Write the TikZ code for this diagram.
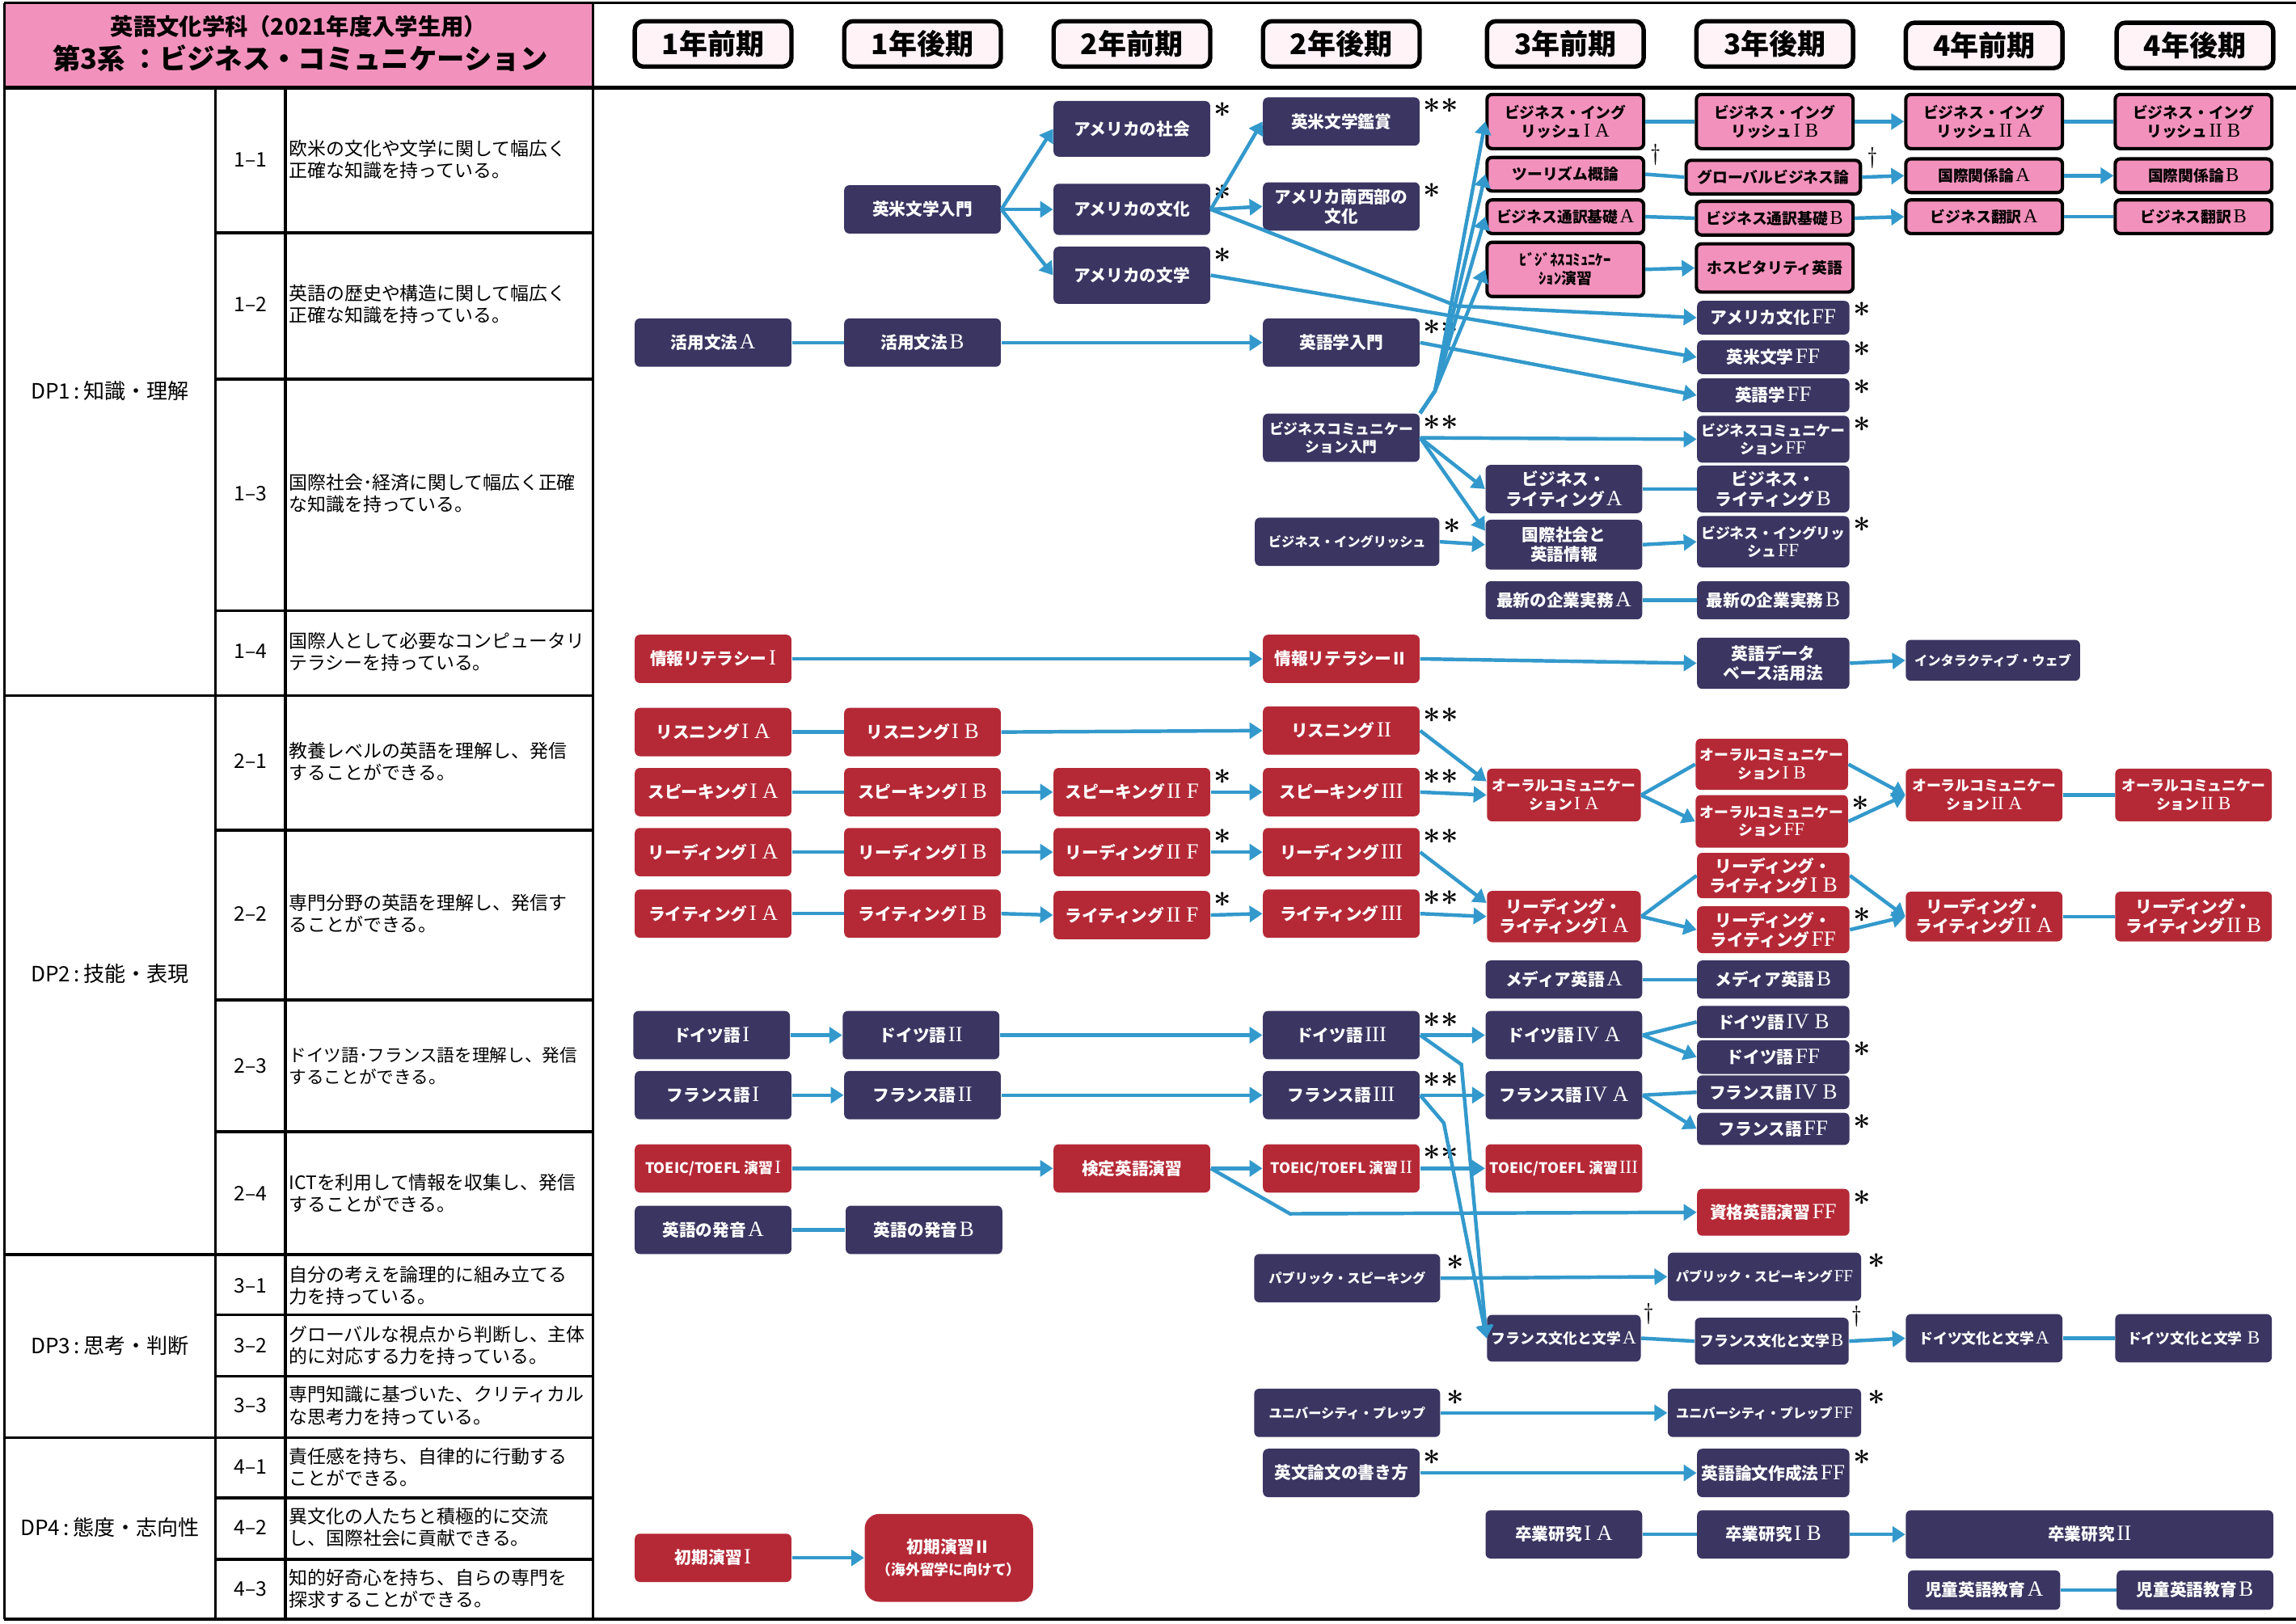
\documentclass[tikz,border=0pt]{standalone}
\usepackage{fontspec}
\usetikzlibrary{arrows.meta}
\newfontfamily\jp{Noto Sans CJK JP}
\newfontfamily\romf{Liberation Serif}[Scale=1.3]
\newcommand\romn[1]{\hspace{0.12em}{\romf\mdseries #1}}
\definecolor{navy}{RGB}{58,53,97}
\definecolor{crim}{RGB}{181,41,54}
\definecolor{pinkb}{RGB}{242,146,188}
\definecolor{hdrp}{RGB}{255,243,248}
\definecolor{arrb}{RGB}{51,153,204}
\tikzset{
  bx/.style={rounded corners=0.07cm, inner sep=0pt, align=center,
     minimum width=2.14cm, minimum height=0.66cm,
     font=\jp\bfseries\fontsize{6.5}{7.6}\selectfont, text=white},
  nv/.style={bx, fill=navy},
  rd/.style={bx, fill=crim},
  pk/.style={bx, fill=pinkb, draw=black, line width=1.3pt, text=black,
     font=\jp\bfseries\fontsize{5.9}{7.2}\selectfont},
  bw/.style={minimum width=#1*0.02cm},
  bh/.style={minimum height=#1*0.02cm},
  sm/.style={font=\jp\bfseries\fontsize{5.6}{7}\selectfont},
  xs/.style={font=\jp\bfseries\fontsize{5.1}{6.5}\selectfont},
  ar/.style={draw=arrb, line width=1.4pt, -{Triangle[length=5pt,width=6.2pt]}},
  ln/.style={draw=arrb, line width=1.4pt},
  mk/.style={anchor=north west, inner sep=0pt, font=\bfseries\fontsize{12}{12}\selectfont},
  dg/.style={anchor=north west, inner sep=0pt, font=\fontsize{9}{9}\selectfont},
  hd/.style={draw=black, line width=1.7pt, fill=hdrp, rounded corners=0.12cm,
     minimum width=2.14cm, minimum height=0.62cm, inner sep=0pt,
     font=\jp\bfseries\fontsize{11}{11}\selectfont},
  dsc/.style={anchor=west, align=left, inner sep=0pt, font=\jp\fontsize{7.2}{8.55}\selectfont},
  num/.style={inner sep=0pt, font=\jp\fontsize{7.8}{8}\selectfont},
  dpl/.style={inner sep=0pt, font=\jp\fontsize{8.2}{9}\selectfont},
  tl/.style={line width=1.1pt, draw=black},
}
\begin{document}
\begin{tikzpicture}[x=0.02cm,y=-0.02cm]
\useasboundingbox (0,0) rectangle (1568,1109);
\fill[white] (0,0) rectangle (1568,1109);
% ---------- left table ----------
\fill[pinkb] (3,2) rectangle (405,60);
\draw[tl] (3,2) -- (1568,2);
\draw[line width=1.7pt] (3,60) -- (1568,60);
\draw[tl] (3,1106) -- (1568,1106);
\draw[tl] (3,2) -- (3,1106);
\draw[tl] (405,2) -- (405,1106);
\draw[tl] (147,60) -- (147,1106);
\draw[tl] (195,60) -- (195,1106);
\foreach \yy in {475,857,982} \draw[tl] (3,\yy) -- (405,\yy);
\foreach \yy in {159,259,417,567,683,773,898,940,1023,1065} \draw[tl] (147,\yy) -- (405,\yy);
\node[inner sep=0pt, font=\jp\bfseries\fontsize{8.9}{9}\selectfont] (h1) at (204,18) {英語文化学科（2021年度入学生用）};
\node[inner sep=0pt, font=\jp\bfseries\fontsize{10.8}{11}\selectfont] (h2) at (205,40) {第3系 ：ビジネス・コミュニケーション};
\node[dpl] (dp1) at (75,267) {DP1\,:\,知識・理解};
\node[dpl] (dp2) at (75,665) {DP2\,:\,技能・表現};
\node[dpl] (dp3) at (75,919) {DP3\,:\,思考・判断};
\node[dpl] (dp4) at (75,1043) {DP4\,:\,態度・志向性};
\node[num] (n11) at (171,109) {1–1};
\node[num] (n12) at (171,208) {1–2};
\node[num] (n13) at (171,337) {1–3};
\node[num] (n14) at (171,445) {1–4};
\node[num] (n21) at (171,520) {2–1};
\node[num] (n22) at (171,624) {2–2};
\node[num] (n23) at (171,728) {2–3};
\node[num] (n24) at (171,815) {2–4};
\node[num] (n31) at (171,878) {3–1};
\node[num] (n32) at (171,919) {3–2};
\node[num] (n33) at (171,960) {3–3};
\node[num] (n41) at (171,1002) {4–1};
\node[num] (n42) at (171,1043) {4–2};
\node[num] (n43) at (171,1085) {4–3};
\node[dsc] (d11) at (197,109) {欧米の文化や文学に関して幅広く\\正確な知識を持っている。};
\node[dsc] (d12) at (197,208) {英語の歴史や構造に関して幅広く\\正確な知識を持っている。};
\node[dsc] (d13) at (197,337) {国際社会･経済に関して幅広く正確\\な知識を持っている。};
\node[dsc] (d14) at (197,445) {国際人として必要なコンピュータリ\\テラシーを持っている。};
\node[dsc] (d21) at (197,520) {教養レベルの英語を理解し、発信\\することができる。};
\node[dsc] (d22) at (197,624) {専門分野の英語を理解し、発信す\\ることができる。};
\node[dsc,font=\jp\fontsize{6.8}{8.55}\selectfont] (d23) at (197,728) {ドイツ語･フランス語を理解し、発信\\することができる。};
\node[dsc] (d24) at (197,815) {ICTを利用して情報を収集し、発信\\することができる。};
\node[dsc] (d31) at (197,878) {自分の考えを論理的に組み立てる\\力を持っている。};
\node[dsc] (d32) at (197,919) {グローバルな視点から判断し、主体\\的に対応する力を持っている。};
\node[dsc] (d33) at (197,960) {専門知識に基づいた、クリティカル\\な思考力を持っている。};
\node[dsc] (d41) at (197,1002) {責任感を持ち、自律的に行動する\\ことができる。};
\node[dsc] (d42) at (197,1043) {異文化の人たちと積極的に交流\\し、国際社会に貢献できる。};
\node[dsc] (d43) at (197,1085) {知的好奇心を持ち、自らの専門を\\探求することができる。};
% ---------- column headers ----------
\node[hd] (c1) at (487,30) {1年前期};
\node[hd] (c2) at (630,30) {1年後期};
\node[hd] (c3) at (773,30) {2年前期};
\node[hd] (c4) at (916,30) {2年後期};
\node[hd] (c5) at (1069,30) {3年前期};
\node[hd] (c6) at (1212,30) {3年後期};
\node[hd] (c7) at (1355,31) {4年前期};
\node[hd] (c8) at (1499,31) {4年後期};
% ---------- DP1 navy ----------
\node[nv] (eibei) at (630,143) {英米文学入門};
\node[nv,bh=38] (amsha) at (773,88) {アメリカの社会};
\node[nv,bh=35] (ambunka) at (773,143) {アメリカの文化};
\node[nv,bh=39] (ambungaku) at (773,188) {アメリカの文学};
\node[nv] (kansho) at (916,83) {英米文学鑑賞};
\node[nv] (nansei) at (916,141) {アメリカ南西部の\\文化};
\node[nv] (katsuA) at (487,234) {活用文法\romn{A}};
\node[nv] (katsuB) at (630,234) {活用文法\romn{B}};
\node[nv] (gogaku) at (916,234) {英語学入門};
\node[nv,sm] (bcnyu) at (916,299) {ビジネスコミュニケー\\ション入門};
\node[nv,xs,bw=126] (bizeng) at (920,370) {ビジネス・イングリッシュ};
\node[nv,bw=104,bh=23] (amff) at (1211,217) {アメリカ文化\romn{FF}};
\node[nv,bw=104,bh=23] (eibff) at (1211,244) {英米文学\romn{FF}};
\node[nv,bw=104,bh=23] (gogff) at (1211,270) {英語学\romn{FF}};
\node[nv,sm,bw=104,bh=32] (bcff) at (1211,300) {ビジネスコミュニケー\\ション\romn{FF}};
\node[nv,bh=33] (bwA) at (1068,334) {ビジネス・\\ライティング\romn{A}};
\node[nv,bw=104,bh=32] (bwB) at (1211,334) {ビジネス・\\ライティング\romn{B}};
\node[nv,bh=34] (kokjo) at (1068,372) {国際社会と\\英語情報};
\node[nv,sm,bw=104,bh=35] (beff) at (1211,370) {ビジネス・イングリッ\\シュ\romn{FF}};
\node[nv,bh=26] (kigA) at (1068,410) {最新の企業実務\romn{A}};
\node[nv,bw=104,bh=26] (kigB) at (1211,410) {最新の企業実務\romn{B}};
\node[nv,bw=104,bh=35] (db) at (1211,453) {英語データ\\ベース活用法};
\node[nv,xs,bw=119,bh=28] (web) at (1361,451) {インタラクティブ・ウェブ};
% ---------- DP1 pink ----------
\node[pk,bh=37] (be1a) at (1069,83) {ビジネス・イング\\リッシュ\romn{I A}};
\node[pk,bh=23] (tour) at (1069,119) {ツーリズム概論};
\node[pk,bh=23] (tsuA) at (1069,148) {ビジネス通訳基礎\romn{A}};
\node[pk,bh=37] (bcen) at (1069,184) {ﾋﾞｼﾞﾈｽｺﾐｭﾆｹｰ\\ｼｮﾝ演習};
\node[pk,bh=37] (be1b) at (1212,83) {ビジネス・イング\\リッシュ\romn{I B}};
\node[pk,bw=119,bh=23] (glob) at (1211,121) {グローバルビジネス論};
\node[pk,bh=23] (tsuB) at (1212,149) {ビジネス通訳基礎\romn{B}};
\node[pk,bh=33] (hosp) at (1212,183) {ホスピタリティ英語};
\node[pk,bh=37] (be2a) at (1355,83) {ビジネス・イング\\リッシュ\romn{II A}};
\node[pk,bh=23] (kokA) at (1355,120) {国際関係論\romn{A}};
\node[pk,bh=23] (honA) at (1355,148) {ビジネス翻訳\romn{A}};
\node[pk,bh=37] (be2b) at (1498,83) {ビジネス・イング\\リッシュ\romn{II B}};
\node[pk,bh=23] (kokB) at (1498,120) {国際関係論\romn{B}};
\node[pk,bh=23] (honB) at (1498,148) {ビジネス翻訳\romn{B}};
% ---------- red ----------
\node[rd] (jo1) at (487,450) {情報リテラシー\romn{I}};
\node[rd] (jo2) at (916,450) {情報リテラシーⅡ};
\node[rd] (lis1a) at (487,500) {リスニング\romn{I A}};
\node[rd] (lis1b) at (630,500) {リスニング\romn{I B}};
\node[rd] (lis2) at (916,499) {リスニング\romn{II}};
\node[rd] (sp1a) at (487,541) {スピーキング\romn{I A}};
\node[rd] (sp1b) at (630,541) {スピーキング\romn{I B}};
\node[rd] (sp2f) at (773,541) {スピーキング\romn{II F}};
\node[rd] (sp3) at (916,541) {スピーキング\romn{III}};
\node[rd] (rd1a) at (487,582) {リーディング\romn{I A}};
\node[rd] (rd1b) at (630,582) {リーディング\romn{I B}};
\node[rd] (rd2f) at (773,582) {リーディング\romn{II F}};
\node[rd] (rd3) at (916,582) {リーディング\romn{III}};
\node[rd] (wr1a) at (487,624) {ライティング\romn{I A}};
\node[rd] (wr1b) at (630,624) {ライティング\romn{I B}};
\node[rd] (wr2f) at (773,625) {ライティング\romn{II F}};
\node[rd] (wr3) at (916,624) {ライティング\romn{III}};
\node[rd,sm,bw=105,bh=36] (oc1a) at (1068,543) {オーラルコミュニケー\\ション\romn{I A}};
\node[rd,bw=105,bh=35] (rw1a) at (1068,626) {リーディング・\\ライティング\romn{I A}};
\node[rd,sm,bw=104,bh=35] (oc1b) at (1210,522) {オーラルコミュニケー\\ション\romn{I B}};
\node[rd,sm,bw=104,bh=36] (ocff) at (1210,561) {オーラルコミュニケー\\ション\romn{FF}};
\node[rd,bw=104,bh=31] (rw1b) at (1211,598) {リーディング・\\ライティング\romn{I B}};
\node[rd,bw=104,bh=32] (rwff) at (1211,635) {リーディング・\\ライティング\romn{FF}};
\node[rd,sm,bh=36] (oc2a) at (1355,543) {オーラルコミュニケー\\ション\romn{II A}};
\node[rd,bh=34] (rw2a) at (1355,626) {リーディング・\\ライティング\romn{II A}};
\node[rd,sm,bh=36] (oc2b) at (1498,543) {オーラルコミュニケー\\ション\romn{II B}};
\node[rd,bh=34] (rw2b) at (1498,626) {リーディング・\\ライティング\romn{II B}};
\node[rd,sm] (to1) at (487,798) {TOEIC/TOEFL 演習\romn{I}};
\node[rd] (ken) at (773,798) {検定英語演習};
\node[rd,sm] (to2) at (916,798) {TOEIC/TOEFL 演習\romn{II}};
\node[rd,sm] (to3) at (1068,798) {TOEIC/TOEFL 演習\romn{III}};
\node[rd,bw=104,bh=32] (shik) at (1211,828) {資格英語演習\romn{FF}};
\node[rd] (sho1) at (487,1064) {初期演習\romn{I}};
\node[rd,bw=115,bh=60,rounded corners=0.2cm] (sho2) at (648,1064) {初期演習Ⅱ\\[1pt]{\fontsize{5.6}{7}\selectfont（海外留学に向けて）}};
% ---------- DP2 navy ----------
\node[nv,bh=26] (medA) at (1068,669) {メディア英語\romn{A}};
\node[nv,bw=104,bh=26] (medB) at (1211,669) {メディア英語\romn{B}};
\node[nv] (de1) at (486,707) {ドイツ語\romn{I}};
\node[nv] (de2) at (629,707) {ドイツ語\romn{II}};
\node[nv] (de3) at (916,707) {ドイツ語\romn{III}};
\node[nv] (de4a) at (1068,707) {ドイツ語\romn{IV A}};
\node[nv,bw=104,bh=22] (de4b) at (1211,698) {ドイツ語\romn{IV B}};
\node[nv,bw=104,bh=23] (deff) at (1211,722) {ドイツ語\romn{FF}};
\node[nv] (fr1) at (487,748) {フランス語\romn{I}};
\node[nv] (fr2) at (630,748) {フランス語\romn{II}};
\node[nv] (fr3) at (916,748) {フランス語\romn{III}};
\node[nv] (fr4a) at (1068,748) {フランス語\romn{IV A}};
\node[nv,bw=104,bh=23] (fr4b) at (1211,746) {フランス語\romn{IV B}};
\node[nv,bw=104,bh=22] (frff) at (1211,771) {フランス語\romn{FF}};
\node[nv] (hatA) at (487,840) {英語の発音\romn{A}};
\node[nv] (hatB) at (631,840) {英語の発音\romn{B}};
\node[nv,xs,bw=127] (pub) at (920,873) {パブリック・スピーキング};
\node[nv,xs,bw=132] (pubff) at (1205,872) {パブリック・スピーキング\romn{FF}};
\node[nv,sm,bw=105,bh=32] (frbA) at (1068,914) {フランス文化と文学\romn{A}};
\node[nv,sm,bw=105,bh=32] (frbB) at (1210,916) {フランス文化と文学\romn{B}};
\node[nv,sm] (debA) at (1355,914) {ドイツ文化と文学\romn{A}};
\node[nv,sm] (debB) at (1498,914) {ドイツ文化と文学\ \romn{B}};
\node[nv,xs,bw=127] (uni) at (920,965) {ユニバーシティ・プレップ};
\node[nv,xs,bw=132] (uniff) at (1205,965) {ユニバーシティ・プレップ\romn{FF}};
\node[nv] (ronA) at (916,1006) {英文論文の書き方};
\node[nv,bw=104] (ronff) at (1211,1006) {英語論文作成法\romn{FF}};
\node[nv] (sot1a) at (1068,1048) {卒業研究\romn{I A}};
\node[nv,bw=104] (sot1b) at (1211,1048) {卒業研究\romn{I B}};
\node[nv,bw=251] (sot2) at (1427,1048) {卒業研究\romn{II}};
\node[nv,bw=104,bh=27] (jiA) at (1355,1086) {児童英語教育\romn{A}};
\node[nv,bh=27] (jiB) at (1499,1086) {児童英語教育\romn{B}};
% ---------- marks ----------
\node[mk] (m1) at ([shift={(2,1)}]amsha.north east) {*};
\node[mk] (m2) at ([shift={(2,1)}]ambunka.north east) {*};
\node[mk] (m3) at ([shift={(2,1)}]ambungaku.north east) {*};
\node[mk] (m4) at ([shift={(2,1)}]kansho.north east) {**};
\node[mk] (m5) at ([shift={(2,1)}]nansei.north east) {*};
\node[mk] (m6) at ([shift={(2,1)}]gogaku.north east) {**};
\node[mk] (m7) at ([shift={(2,1)}]bcnyu.north east) {**};
\node[mk] (m8) at ([shift={(2,1)}]bizeng.north east) {*};
\node[mk] (m9) at ([shift={(2,1)}]amff.north east) {*};
\node[mk] (m10) at ([shift={(2,1)}]eibff.north east) {*};
\node[mk] (m11) at ([shift={(2,1)}]gogff.north east) {*};
\node[mk] (m12) at ([shift={(2,1)}]bcff.north east) {*};
\node[mk] (m13) at ([shift={(2,1)}]beff.north east) {*};
\node[mk] (m14) at ([shift={(2,1)}]lis2.north east) {**};
\node[mk] (m15) at ([shift={(2,1)}]sp2f.north east) {*};
\node[mk] (m16) at ([shift={(2,1)}]sp3.north east) {**};
\node[mk] (m17) at ([shift={(2,1)}]rd2f.north east) {*};
\node[mk] (m18) at ([shift={(2,1)}]rd3.north east) {**};
\node[mk] (m19) at ([shift={(2,1)}]wr2f.north east) {*};
\node[mk] (m20) at ([shift={(2,1)}]wr3.north east) {**};
\node[mk] (m21) at ([shift={(2,1)}]ocff.north east) {*};
\node[mk] (m22) at ([shift={(2,1)}]rwff.north east) {*};
\node[mk] (m23) at ([shift={(2,1)}]de3.north east) {**};
\node[mk] (m24) at ([shift={(2,1)}]deff.north east) {*};
\node[mk] (m25) at ([shift={(2,1)}]fr3.north east) {**};
\node[mk] (m26) at ([shift={(2,1)}]frff.north east) {*};
\node[mk] (m27) at ([shift={(2,1)}]to2.north east) {**};
\node[mk] (m28) at ([shift={(2,1)}]shik.north east) {*};
\node[mk] (m29) at ([shift={(4,1)}]pub.north east) {*};
\node[mk] (m30) at ([shift={(4,1)}]pubff.north east) {*};
\node[mk] (m31) at ([shift={(4,1)}]uni.north east) {*};
\node[mk] (m32) at ([shift={(4,1)}]uniff.north east) {*};
\node[mk] (m33) at ([shift={(2,1)}]ronA.north east) {*};
\node[mk] (m34) at ([shift={(2,1)}]ronff.north east) {*};
\node[dg] (g1) at ([shift={(3,-8)}]tour.north east) {\dag};
\node[dg] (g2) at ([shift={(3,-8)}]glob.north east) {\dag};
\node[dg] (g3) at ([shift={(1,-8)}]frbA.north east) {\dag};
\node[dg] (g4) at ([shift={(1,-8)}]frbB.north east) {\dag};
% ---------- connectors DP1 ----------
\draw[ar] (eibei.east) -- (amsha.west);
\draw[ar] (eibei.east) -- (ambunka.west);
\draw[ar] (eibei.east) -- (ambungaku.west);
\draw[ar] (ambunka.east) -- (kansho.west);
\draw[ar] (ambunka.east) -- (nansei.west);
\coordinate (k1) at (995,209);
\draw[ar] (ambunka.east) -- (k1) -- (amff.west);
\draw[ar] (ambungaku.east) -- (eibff.west);
\draw[ln] (katsuA.east) -- (katsuB.west);
\draw[ar] (katsuB.east) -- (gogaku.west);
\draw[ar] (gogaku.east) -- (gogff.west);
\coordinate (kf) at (980,267);
\draw[ar] (bcnyu.north east) -- (kf) -- (be1a.west);
\draw[ar] (bcnyu.north east) -- (kf) -- (tour.west);
\draw[ar] (bcnyu.north east) -- (kf) -- (tsuA.west);
\draw[ar] (bcnyu.north east) -- (kf) -- (bcen.west);
\draw[ar] (bcnyu.east) -- (bcff.west);
\draw[ar] (bcnyu.east) -- (bwA.west);
\draw[ar] (bcnyu.east) -- (kokjo.170);
\draw[ar] (bizeng.east) -- (kokjo.west);
\draw[ln] (be1a.east) -- (be1b.west);
\draw[ar] (be1b.east) -- (be2a.west);
\draw[ln] (be2a.east) -- (be2b.west);
\draw[ln] (tour.east) -- (glob.west);
\draw[ar] (glob.east) -- (kokA.west);
\draw[ar] (kokA.east) -- (kokB.west);
\draw[ln] (tsuA.east) -- (tsuB.west);
\draw[ar] (tsuB.east) -- (honA.west);
\draw[ln] (honA.east) -- (honB.west);
\draw[ar] (bcen.east) -- (hosp.west);
\draw[ln] (bwA.east) -- (bwB.west);
\draw[ar] (kokjo.east) -- (beff.west);
\draw[ln] (kigA.east) -- (kigB.west);
\draw[ar] (jo1.east) -- (jo2.west);
\draw[ar] (jo2.east) -- (db.west);
\draw[ar] (db.east) -- (web.west);
% ---------- connectors DP2 ----------
\draw[ln] (lis1a.east) -- (lis1b.west);
\draw[ar] (lis1b.east) -- (lis2.west);
\draw[ar] (lis2.east) -- (oc1a.170);
\draw[ln] (sp1a.east) -- (sp1b.west);
\draw[ar] (sp1b.east) -- (sp2f.west);
\draw[ar] (sp2f.east) -- (sp3.west);
\draw[ar] (sp3.east) -- (oc1a.west);
\draw[ln] (rd1a.east) -- (rd1b.west);
\draw[ar] (rd1b.east) -- (rd2f.west);
\draw[ar] (rd2f.east) -- (rd3.west);
\draw[ar] (rd3.east) -- (rw1a.170);
\draw[ln] (wr1a.east) -- (wr1b.west);
\draw[ar] (wr1b.east) -- (wr2f.west);
\draw[ar] (wr2f.east) -- (wr3.west);
\draw[ar] (wr3.east) -- (rw1a.west);
\draw[ln] (oc1a.east) -- (oc1b.west);
\draw[ar] (oc1a.east) -- (ocff.west);
\draw[ar] (oc1b.east) -- (oc2a.west);
\draw[ar] (ocff.east) -- (oc2a.west);
\draw[ln] (oc2a.east) -- (oc2b.west);
\draw[ln] (rw1a.east) -- (rw1b.west);
\draw[ar] (rw1a.east) -- (rwff.west);
\draw[ar] (rw1b.east) -- (rw2a.west);
\draw[ar] (rwff.east) -- (rw2a.west);
\draw[ln] (rw2a.east) -- (rw2b.west);
\draw[ln] (medA.east) -- (medB.west);
\draw[ar] (de1.east) -- (de2.west);
\draw[ar] (de2.east) -- (de3.west);
\draw[ar] (de3.east) -- (de4a.west);
\draw[ln] (de4a.east) -- (de4b.west);
\draw[ar] (de4a.east) -- (deff.west);
\draw[ar] (fr1.east) -- (fr2.west);
\draw[ar] (fr2.east) -- (fr3.west);
\draw[ar] (fr3.east) -- (fr4a.west);
\draw[ln] (fr4a.east) -- (fr4b.west);
\draw[ar] (fr4a.east) -- (frff.west);
\coordinate (k2) at (998,727);
\coordinate (k3) at (986,767);
\draw[ar] (de3.east) -- (k2) -- (frbA.west);
\draw[ar] (fr3.east) -- (k3) -- (frbA.west);
\draw[ar] (to1.east) -- (ken.west);
\draw[ar] (ken.east) -- (to2.west);
\draw[ar] (to2.east) -- (to3.west);
\coordinate (k4) at (881,829);
\draw[ar] (ken.east) -- (k4) -- (shik.west);
\draw[ln] (hatA.east) -- (hatB.west);
\draw[ar] (pub.east) -- (pubff.west);
\draw[ln] (frbA.east) -- (frbB.west);
\draw[ar] (frbB.east) -- (debA.west);
\draw[ln] (debA.east) -- (debB.west);
\draw[ar] (uni.east) -- (uniff.west);
\draw[ar] (ronA.east) -- (ronff.west);
\draw[ln] (sot1a.east) -- (sot1b.west);
\draw[ar] (sot1b.east) -- (sot2.west);
\draw[ln] (jiA.east) -- (jiB.west);
\draw[ar] (sho1.east) -- (sho2.west);
\end{tikzpicture}
\end{document}
